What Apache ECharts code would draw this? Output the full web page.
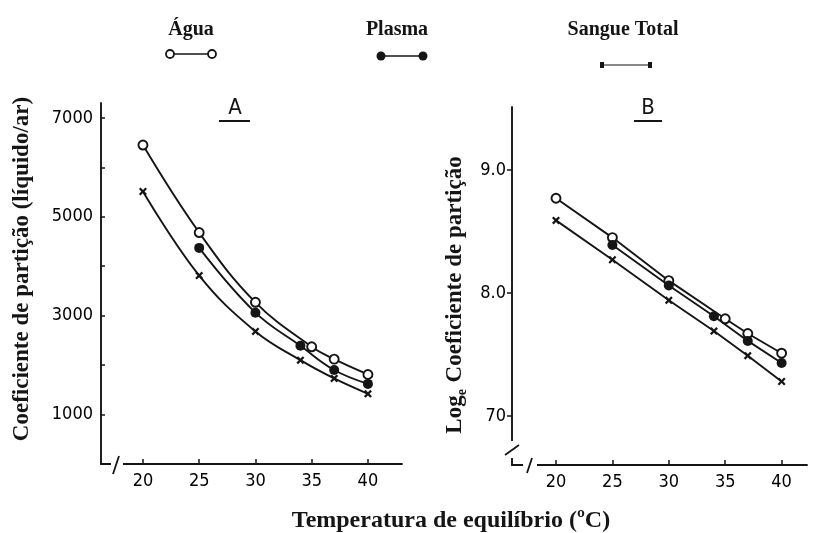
<!DOCTYPE html>
<html><head><meta charset="utf-8">
<script src="https://cdn.jsdelivr.net/npm/echarts@6/dist/echarts.min.js"></script>
<style>html,body{margin:0;padding:0;background:#fff}#c{width:818px;height:533px}</style>
</head><body><div id="c"></div>
<script>
// ---- data ----
const seriesNames = ['Água', 'Plasma', 'Sangue Total'];
const aguaTempsA = [20, 25, 30, 35, 37, 40];
const aguaA = [6450, 4680, 3270, 2370, 2120, 1810];
const plasmaTempsA = [25, 30, 34, 37, 40];
const plasmaA = [4370, 3060, 2390, 1900, 1620];
const sangueTempsA = [20, 25, 30, 34, 37, 40];
const sangueA = [5510, 3810, 2680, 2100, 1730, 1420];
const aguaTempsB = [20, 25, 30, 35, 37, 40];
const aguaB = [8.77, 8.45, 8.10, 7.79, 7.67, 7.51];
const plasmaTempsB = [25, 30, 34, 37, 40];
const plasmaB = [8.39, 8.06, 7.81, 7.61, 7.43];
const sangueTempsB = [20, 25, 30, 34, 37, 40];
const sangueB = [8.59, 8.27, 7.94, 7.69, 7.49, 7.28];
const xTickValues = [20, 25, 30, 35, 40];
const yLabelValuesA = [1000, 3000, 5000, 7000];
const yTickValuesA = [1000, 2000, 3000, 4000, 5000, 6000, 7000];
const yTickValuesB = [7, 8, 9];
const yTickLabelsB = ['70', '8.0', '9.0'];
const panelTitles = ['A', 'B'];
const xTitle = 'Temperatura de equilíbrio (ºC)';
const yTitleA = 'Coeficiente de partição (líquido/ar)';

const pair = (xs, ys) => xs.map((x, i) => [x, ys[i]]);
const INK = '#151515';
const tickFont = "'Liberation Sans Narrow','DejaVu Sans Condensed','Liberation Sans',sans-serif";
const serif = "'Liberation Serif','Times New Roman',serif";
const xMark = 'path://M0,2L2,0L5,3L8,0L10,2L7,5L10,8L8,10L5,7L2,10L0,8L3,5Z';

const symbolStyles = [
  { symbol: 'circle', symbolSize: 9, itemStyle: { color: '#fff', borderColor: INK, borderWidth: 1.9 } },
  { symbol: 'circle', symbolSize: 10, itemStyle: { color: INK, borderColor: INK, borderWidth: 0 } },
  { symbol: xMark, symbolSize: 8, itemStyle: { color: INK, borderWidth: 0 } }
];

function mkSeries(name, idx, data, axisIdx, smooth) {
  return Object.assign({
    name: name, type: 'line', xAxisIndex: axisIdx, yAxisIndex: axisIdx,
    data: data, smooth: smooth, showSymbol: true, z: 3,
    lineStyle: { color: INK, width: 1.9 },
    emphasis: { disabled: true }, silent: true
  }, symbolStyles[idx]);
}

const axisLineStyle = { show: true, lineStyle: { color: INK, width: 1.9 } };
const labelBase = { color: '#000', fontSize: 18, fontFamily: tickFont };
function xAxisCfg(gi, min, max) {
  return {
    type: 'value', gridIndex: gi, min: min, max: max,
    axisLine: axisLineStyle, splitLine: { show: false },
    axisTick: { show: true, inside: true, length: 5, customValues: xTickValues, lineStyle: { color: INK, width: 1.5 } },
    axisLabel: Object.assign({ customValues: xTickValues, margin: 8, formatter: v => String(v) }, labelBase)
  };
}

const option = {
  animation: false,
  backgroundColor: '#fff',
  grid: [
    { left: 101, top: 103, width: 301, height: 361, outerBoundsMode: 'none', containLabel: false },
    { left: 512, top: 107, width: 295, height: 358, outerBoundsMode: 'none', containLabel: false }
  ],
  xAxis: [xAxisCfg(0, 16.27, 43.03), xAxisCfg(1, 16.1, 42.25)],
  yAxis: [
    {
      type: 'value', gridIndex: 0, min: 0, max: 7300,
      axisLine: axisLineStyle, splitLine: { show: false },
      axisTick: { show: true, inside: true, length: 4, customValues: yTickValuesA, lineStyle: { color: INK, width: 1.5 } },
      axisLabel: Object.assign({ customValues: yLabelValuesA, margin: 8, formatter: v => String(Math.round(v)) }, labelBase)
    },
    {
      type: 'value', gridIndex: 1, min: 6.601, max: 9.512,
      axisLine: axisLineStyle, splitLine: { show: false },
      axisTick: { show: true, inside: false, length: 5, customValues: yTickValuesB, lineStyle: { color: INK, width: 1.5 } },
      axisLabel: Object.assign({
        customValues: yTickValuesB, margin: 6,
        formatter: v => yTickLabelsB[yTickValuesB.indexOf(Math.round(v))] || ''
      }, labelBase)
    }
  ],
  series: [
    mkSeries(seriesNames[0], 0, pair(aguaTempsA, aguaA), 0, 0.4),
    mkSeries(seriesNames[1], 1, pair(plasmaTempsA, plasmaA), 0, 0.4),
    mkSeries(seriesNames[2], 2, pair(sangueTempsA, sangueA), 0, 0.4),
    mkSeries(seriesNames[0], 0, pair(aguaTempsB, aguaB), 1, false),
    mkSeries(seriesNames[1], 1, pair(plasmaTempsB, plasmaB), 1, false),
    mkSeries(seriesNames[2], 2, pair(sangueTempsB, sangueB), 1, false)
  ],
  graphic: [
    // legend
    { type: 'text', z: 100, x: 191, y: 30, style: { text: seriesNames[0], font: 'bold 20px ' + serif, fill: INK, align: 'center', verticalAlign: 'middle' } },
    { type: 'line', z: 100, shape: { x1: 170, y1: 54, x2: 212, y2: 54 }, style: { stroke: INK, lineWidth: 1.5 } },
    { type: 'circle', z: 101, shape: { cx: 170, cy: 54, r: 4 }, style: { fill: '#fff', stroke: INK, lineWidth: 1.8 } },
    { type: 'circle', z: 101, shape: { cx: 212, cy: 54, r: 4 }, style: { fill: '#fff', stroke: INK, lineWidth: 1.8 } },
    { type: 'text', z: 100, x: 397, y: 30, style: { text: seriesNames[1], font: 'bold 20px ' + serif, fill: INK, align: 'center', verticalAlign: 'middle' } },
    { type: 'line', z: 100, shape: { x1: 381, y1: 56, x2: 423, y2: 56 }, style: { stroke: INK, lineWidth: 1.5 } },
    { type: 'circle', z: 101, shape: { cx: 381, cy: 56, r: 4.5 }, style: { fill: INK } },
    { type: 'circle', z: 101, shape: { cx: 423, cy: 56, r: 4.5 }, style: { fill: INK } },
    { type: 'text', z: 100, x: 623, y: 30, style: { text: seriesNames[2], font: 'bold 20px ' + serif, fill: INK, align: 'center', verticalAlign: 'middle' } },
    { type: 'line', z: 100, shape: { x1: 602, y1: 65, x2: 650, y2: 65 }, style: { stroke: INK, lineWidth: 1 } },
    { type: 'rect', z: 101, shape: { x: 600, y: 62, width: 4, height: 6 }, style: { fill: INK } },
    { type: 'rect', z: 101, shape: { x: 648, y: 62, width: 4, height: 6 }, style: { fill: INK } },
    // panel titles
    { type: 'text', z: 100, x: 235, y: 108, style: { text: panelTitles[0], font: '22px ' + tickFont, fill: INK, align: 'center', verticalAlign: 'middle' } },
    { type: 'line', z: 100, shape: { x1: 219, y1: 121, x2: 250, y2: 121 }, style: { stroke: INK, lineWidth: 2 } },
    { type: 'text', z: 100, x: 648, y: 108, style: { text: panelTitles[1], font: '22px ' + tickFont, fill: INK, align: 'center', verticalAlign: 'middle' } },
    { type: 'line', z: 100, shape: { x1: 634, y1: 121, x2: 662, y2: 121 }, style: { stroke: INK, lineWidth: 2 } },
    // axis breaks A
    { type: 'rect', z: 100, shape: { x: 111, y: 459, width: 12, height: 10 }, style: { fill: '#fff' } },
    { type: 'line', z: 101, shape: { x1: 113, y1: 474, x2: 119, y2: 456 }, style: { stroke: INK, lineWidth: 1.8 } },
    // axis breaks B
    { type: 'rect', z: 100, shape: { x: 508, y: 441, width: 8, height: 17 }, style: { fill: '#fff' } },
    { type: 'line', z: 101, shape: { x1: 505, y1: 455, x2: 519, y2: 445 }, style: { stroke: INK, lineWidth: 1.8 } },
    { type: 'rect', z: 100, shape: { x: 523, y: 460, width: 14, height: 10 }, style: { fill: '#fff' } },
    { type: 'line', z: 101, shape: { x1: 527, y1: 473, x2: 532, y2: 458 }, style: { stroke: INK, lineWidth: 1.8 } },
    // axis titles
    { type: 'text', z: 100, x: 451, y: 521, style: { text: xTitle, font: 'bold 24px ' + serif, fill: INK, align: 'center', verticalAlign: 'middle' } },
    { type: 'text', z: 100, x: 22, y: 269, rotation: Math.PI / 2, style: { text: yTitleA, font: 'bold 23px ' + serif, fill: INK, align: 'center', verticalAlign: 'middle' } },
    { type: 'text', z: 100, x: 455, y: 295, rotation: Math.PI / 2,
      style: {
        text: '{a|Log}{b|e}{a| Coeficiente de partição}', align: 'center', verticalAlign: 'middle',
        rich: {
          a: { fontFamily: serif, fontWeight: 'bold', fontSize: 23, fill: INK, color: INK, lineHeight: 28, verticalAlign: 'middle' },
          b: { fontFamily: serif, fontWeight: 'bold', fontSize: 14, fill: INK, color: INK, lineHeight: 28, verticalAlign: 'bottom', padding: [0, 1, 0, 0] }
        }
      }
    }
  ]
};

const chart = echarts.init(document.getElementById('c'), null, { renderer: 'canvas' });
chart.setOption(option);
</script>
</body></html>
